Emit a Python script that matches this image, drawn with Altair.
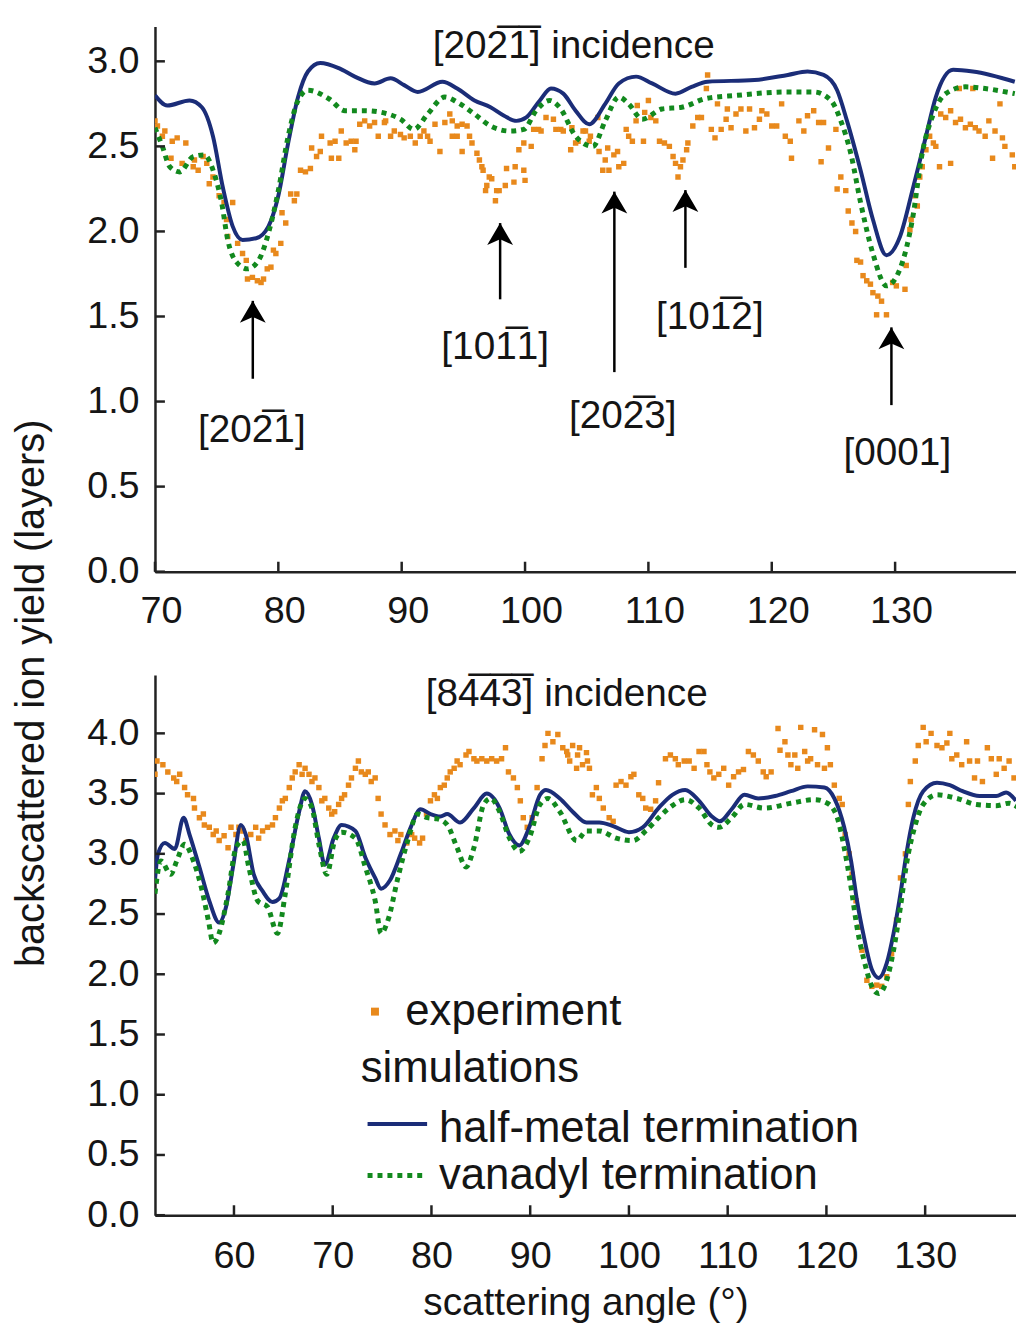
import altair as alt
import pandas as pd

FONT = "Liberation Sans"
ORANGE = "#e8891c"
BLUE = "#1b2d78"
GREEN = "#12891e"
INK = "#151515"

# ---------------- top panel: [20-2-1] incidence ----------------
top_exp_x = [70.0, 70.2, 70.6, 70.8, 71.3, 71.4, 71.8, 72.2, 72.5, 73.1, 73.2, 73.5, 73.9, 74.2, 74.4, 74.7,
             75.2, 75.6, 75.8, 75.9, 76.3, 76.7, 77.1, 77.4, 77.5, 77.9, 78.3, 78.6, 78.8, 79.1, 79.4, 79.6,
             79.8, 80.2, 80.3, 80.6, 81.0, 81.3, 81.5, 81.8, 82.2, 82.6, 82.7, 83.1, 83.4, 83.5, 84.2, 84.3,
             84.6, 84.9, 85.1, 85.5, 85.9, 86.2, 86.3, 86.6, 87.0, 87.4, 87.8, 88.1, 88.6, 88.7, 89.1, 89.4,
             89.9, 90.2, 90.7, 91.1, 91.5, 91.8, 92.1, 92.3, 92.7, 93.1, 93.5, 93.9, 94.1, 94.1, 94.5, 94.5,
             94.9, 94.9, 95.3, 95.5, 95.7, 96.1, 96.3, 96.5, 96.6, 96.8, 96.9, 97.1, 97.3, 97.6, 97.7, 97.9,
             98.4, 98.5, 99.1, 99.2, 99.5, 99.9, 99.9, 100.0, 100.5, 100.7, 101.1, 101.3, 101.7, 102.3, 102.5,
             102.9, 103.1, 103.7, 103.8, 104.1, 104.3, 104.7, 104.9, 105.2, 105.3, 105.9, 106.0, 106.3, 106.5,
             106.7, 106.8, 107.2, 107.5, 107.6, 108.0, 108.2, 108.4, 108.7, 109.0, 109.1, 109.6, 109.7, 110.0,
             110.2, 110.6, 110.9, 111.3, 111.7, 112.0, 112.2, 112.4, 112.6, 112.8, 113.1, 113.2, 113.6, 114.0,
             114.3, 114.7, 114.8, 115.1, 115.4, 115.6, 115.9, 116.3, 116.4, 116.7, 117.1, 117.5, 117.9, 118.2,
             118.6, 119.0, 119.2, 119.6, 120.0, 120.4, 120.8, 121.1, 121.5, 121.6, 122.2, 122.6, 122.9, 123.4,
             123.8, 124.0, 124.2, 124.6, 125.2, 125.3, 125.6, 126.0, 126.2, 126.5, 126.8, 126.9, 127.2, 127.4,
             127.7, 128.0, 128.2, 128.5, 128.6, 128.9, 129.3, 129.8, 130.1, 130.8, 130.9, 131.2, 131.3, 131.6,
             131.8, 132.0, 132.2, 132.5, 132.8, 133.1, 133.3, 133.6, 133.7, 134.1, 134.5, 134.5, 134.9, 135.2,
             135.3, 135.7, 136.1, 136.3, 136.5, 136.8, 137.3, 137.6, 137.9, 138.1, 138.5, 138.7, 138.9, 139.5,
             139.7]
top_exp_y = [2.65, 2.62, 2.56, 2.59, 2.43, 2.53, 2.55, 2.40, 2.52, 2.38, 2.42, 2.36, 2.44, 2.40, 2.28, 2.32,
             2.21, 2.17, 2.07, 1.97, 2.17, 1.93, 1.87, 1.83, 1.72, 1.73, 1.71, 1.70, 1.72, 1.78, 1.79, 1.89,
             1.87, 1.93, 2.11, 2.05, 2.22, 2.18, 2.22, 2.36, 2.35, 2.37, 2.49, 2.44, 2.47, 2.56, 2.52, 2.43,
             2.53, 2.43, 2.59, 2.52, 2.53, 2.48, 2.53, 2.63, 2.65, 2.62, 2.64, 2.56, 2.64, 2.65, 2.56, 2.59,
             2.57, 2.55, 2.56, 2.52, 2.56, 2.59, 2.56, 2.53, 2.63, 2.47, 2.64, 2.69, 2.65, 2.56, 2.62, 2.56,
             2.63, 2.47, 2.62, 2.56, 2.52, 2.46, 2.42, 2.38, 2.36, 2.24, 2.27, 2.32, 2.31, 2.18, 2.24, 2.24,
             2.27, 2.37, 2.29, 2.38, 2.48, 2.36, 2.52, 2.30, 2.50, 2.60, 2.60, 2.59, 2.67, 2.66, 2.60,
             2.60, 2.59, 2.48, 2.61, 2.52, 2.53, 2.59, 2.59, 2.53, 2.56, 2.67, 2.47, 2.36, 2.42,
             2.49, 2.36, 2.45, 2.47, 2.38, 2.40, 2.60, 2.56, 2.53, 2.65, 2.74, 2.53, 2.70, 2.77,
             2.67, 2.65, 2.53, 2.52, 2.50, 2.44, 2.40, 2.32, 2.38, 2.42, 2.48, 2.52, 2.62, 2.67,
             2.67, 2.84, 2.92, 2.60, 2.55, 2.75, 2.60, 2.66, 2.72, 2.61, 2.69, 2.72, 2.59, 2.72,
             2.61, 2.66, 2.71, 2.69, 2.62, 2.62, 2.75, 2.56, 2.53, 2.43, 2.65, 2.59, 2.68, 2.71,
             2.64, 2.41, 2.64, 2.49, 2.60, 2.25, 2.32, 2.24, 2.12, 2.05, 2.00, 1.83, 1.82, 1.74,
             1.71, 1.69, 1.64, 1.51, 1.62, 1.59, 1.51, 1.70, 1.68, 1.66, 1.80, 2.01, 2.07, 2.21,
             2.15, 2.32, 2.38, 2.48, 2.56, 2.52, 2.50, 2.38, 2.69, 2.67, 2.40, 2.71, 2.64, 2.84,
             2.66, 2.61, 2.63, 2.84, 2.61, 2.59, 2.56, 2.65, 2.43, 2.59, 2.75, 2.55, 2.50, 2.45,
             2.38]

top_half_x = [70.0, 71.0, 72.8, 73.8, 74.7, 75.5, 76.3, 77.1, 78.2, 79.2, 80.0, 80.8, 81.6, 82.4, 83.4,
              84.9, 86.2, 87.8, 89.1, 90.2, 91.3, 93.3, 94.5, 95.9, 97.2, 98.3, 99.3, 100.1, 101.2, 102.1,
              103.1, 104.1, 105.2, 106.5, 107.6, 109.0, 110.3, 112.2, 113.5, 114.8, 118.6, 121.3, 122.9,
              124.2, 125.3, 126.1, 127.2, 128.2, 129.3, 130.4, 131.4, 132.5, 133.3, 134.7, 136.3, 139.7]
top_half_y = [2.80, 2.74, 2.77, 2.73, 2.56, 2.26, 2.03, 1.95, 1.96, 2.03, 2.21, 2.52, 2.79, 2.94, 2.99,
              2.96, 2.91, 2.87, 2.90, 2.86, 2.82, 2.88, 2.84, 2.77, 2.73, 2.68, 2.65, 2.67, 2.77, 2.84,
              2.81, 2.71, 2.63, 2.75, 2.87, 2.91, 2.87, 2.81, 2.85, 2.88, 2.89, 2.92, 2.94,
              2.92, 2.83, 2.65, 2.36, 2.07, 1.86, 1.97, 2.24, 2.56, 2.79, 2.95, 2.94, 2.88]

top_van_x = [70.0, 70.6, 71.2, 72.0, 73.1, 74.0, 74.8, 75.4, 75.9, 76.6, 77.5, 78.4, 79.2, 80.0, 80.8,
             81.6, 82.4, 84.1, 85.4, 87.0, 88.9, 89.9, 91.0, 92.1, 93.5, 94.5, 95.9, 97.2, 98.8, 99.9,
             100.9, 102.0, 102.8, 104.1, 105.5, 106.5, 107.6, 108.4, 109.5, 111.1, 112.7, 114.6, 117.2,
             121.2, 123.4, 124.8, 125.6, 126.4, 127.2, 128.2, 129.3, 130.4, 131.4, 132.2, 133.1, 134.1,
             135.7, 137.3, 139.7]
top_van_y = [2.61, 2.50, 2.38, 2.35, 2.44, 2.45, 2.34, 2.17, 1.95, 1.82, 1.78, 1.83, 1.99, 2.24, 2.56,
             2.77, 2.83, 2.78, 2.71, 2.71, 2.69, 2.66, 2.60, 2.69, 2.79, 2.76, 2.69, 2.62, 2.59, 2.60,
             2.71, 2.77, 2.73, 2.56, 2.50, 2.65, 2.79, 2.75, 2.66, 2.72, 2.73, 2.78, 2.80,
             2.82, 2.82, 2.77, 2.65, 2.46, 2.17, 1.87, 1.68, 1.78, 2.07, 2.46, 2.69, 2.81,
             2.85, 2.84, 2.81]

top_ticks_x = [70, 80, 90, 100, 110, 120, 130]
top_ticks_y = [0.0, 0.5, 1.0, 1.5, 2.0, 2.5, 3.0]

top_title = ["[202\u03051\u0305] incidence"]
top_title_x = [103.95]
top_title_y = [3.02]

ann_labels = ["[202\u03051]", "[101\u03051]", "[202\u03053]", "[101\u03052]", "[0001]"]
ann_x = [77.93, 97.98, 107.24, 113.0, 129.70]
ann_tip = [1.592, 2.049, 2.234, 2.243, 1.436]
ann_tail = [1.134, 1.601, 1.173, 1.786, 0.979]
ann_label_x = [77.85, 97.58, 107.92, 114.98, 130.18]
ann_label_y = [0.765, 1.251, 0.842, 1.426, 0.629]

# ---------------- bottom panel: [8-4-4 3] incidence ----------------
bot_exp_x = [52.0, 52.2, 52.8, 53.3, 53.9, 54.2, 54.5, 55.0, 55.3, 55.9, 56.0, 56.5, 56.9, 57.0, 57.5,
             57.9, 58.2, 58.5, 59.0, 59.4, 59.7, 60.2, 60.5, 60.9, 61.2, 61.7, 62.2, 62.5, 62.9, 63.4,
             63.9, 64.2, 64.6, 64.9, 65.2, 65.6, 65.9, 66.2, 66.6, 66.9, 67.2, 67.6, 67.9, 68.2, 68.6,
             68.9, 69.2, 69.6, 69.9, 70.2, 70.6, 70.9, 71.2, 71.6, 71.9, 72.3, 72.6, 72.9, 73.3, 73.6,
             73.9, 74.3, 74.6, 74.9, 75.3, 75.8, 76.3, 76.6, 76.9, 77.5, 78.0, 78.3, 78.8, 79.1, 79.5,
             79.9, 80.3, 80.6, 80.9, 81.3, 81.6, 81.9, 82.3, 82.6, 82.9, 83.5, 83.8, 84.3, 84.6, 85.1,
             85.6, 86.1, 86.6, 87.1, 87.5, 87.8, 88.3, 88.7, 89.0, 89.3, 89.7, 90.2, 90.7, 91.2, 91.5,
             91.8, 92.3, 92.8, 93.3, 93.7, 93.8, 94.0, 94.3, 94.7, 94.8, 95.0, 95.3, 95.7, 95.8, 96.0,
             96.3, 96.7, 97.0, 97.4, 98.0, 98.4, 98.7, 99.2, 99.7, 100.2, 100.5, 101.0, 101.4, 101.7,
             102.2, 102.7, 103.0, 103.7, 104.2, 104.7, 105.0, 105.6, 106.1, 106.6, 107.1, 107.6, 107.9,
             108.2, 108.6, 109.1, 109.6, 110.1, 110.6, 111.1, 111.6, 112.1, 112.6, 113.1, 113.6, 113.9,
             114.4, 115.1, 115.3, 115.8, 116.1, 116.4, 116.8, 117.1, 117.4, 117.8, 118.1, 118.4, 118.8,
             119.1, 119.6, 119.8, 120.1, 120.4, 120.8, 121.3, 121.6, 121.9, 122.3, 122.6, 123.0, 123.3,
             123.6, 124.1, 124.6, 125.1, 125.6, 126.1, 126.6, 127.1, 127.5, 128.0, 128.3, 128.5, 129.0,
             129.3, 129.8, 130.1, 130.6, 131.2, 131.7, 132.2, 132.5, 132.7, 133.2, 133.7, 134.2, 134.5,
             135.0, 135.3, 135.8, 136.3, 136.7, 137.2, 137.5, 138.0, 138.5, 139.0]
bot_exp_y = [3.66, 3.77, 3.74, 3.68, 3.63, 3.60, 3.66, 3.55, 3.49, 3.46, 3.38, 3.30, 3.33, 3.24, 3.22,
             3.16, 3.19, 3.11, 3.15, 3.05, 3.22, 3.16, 3.22, 3.19, 3.11, 3.16, 3.22, 3.13, 3.19, 3.22,
             3.24, 3.30, 3.38, 3.44, 3.46, 3.55, 3.63, 3.68, 3.74, 3.66, 3.71, 3.66, 3.60, 3.63, 3.55,
             3.44, 3.46, 3.38, 3.33, 3.35, 3.41, 3.46, 3.49, 3.57, 3.63, 3.71, 3.77, 3.68, 3.66, 3.68,
             3.60, 3.63, 3.46, 3.33, 3.24, 3.16, 3.19, 3.11, 3.16, 3.09, 3.16, 3.13, 3.09, 3.13, 3.33,
             3.44, 3.49, 3.46, 3.55, 3.57, 3.63, 3.68, 3.71, 3.77, 3.74, 3.82, 3.85, 3.79, 3.77, 3.79,
             3.77, 3.79, 3.77, 3.79, 3.88, 3.68, 3.63, 3.55, 3.44, 3.30, 3.22, 3.30, 3.55, 3.79, 3.90,
             4.00, 3.93, 3.99, 3.88, 3.85, 3.82, 3.77, 3.90, 3.71, 3.82, 3.88, 3.74, 3.84, 3.77, 3.71,
             3.49, 3.55, 3.46, 3.38, 3.30, 3.27, 3.57, 3.60, 3.57, 3.64, 3.66, 3.49, 3.46, 3.38,
             3.37, 3.44, 3.59, 3.79, 3.82, 3.79, 3.74, 3.77, 3.77, 3.71, 3.85, 3.85, 3.74,
             3.68, 3.63, 3.66, 3.71, 3.57, 3.64, 3.68, 3.70, 3.85, 3.82, 3.77, 3.68, 3.64,
             3.68, 4.04, 3.86, 3.93, 3.82, 3.74, 3.82, 3.71, 4.05, 3.85, 3.77, 3.79, 4.03,
             3.74, 3.99, 3.71, 3.88, 3.74, 3.57, 3.46, 3.41, 3.16, 3.00, 2.83, 2.61, 2.39,
             2.20, 1.95, 1.90, 1.91, 1.90, 1.98, 2.17, 2.45, 2.80, 3.00, 3.41, 3.60, 3.77,
             3.90, 4.05, 3.93, 4.00, 3.90, 3.88, 3.92, 4.00, 3.79, 3.82, 3.74, 3.93, 3.77,
             3.63, 3.77, 3.60, 3.88, 3.79, 3.66, 3.79, 3.71, 3.77, 3.63]

bot_half_x = [52.0, 52.3, 53.0, 54.0, 54.9, 55.5, 56.5, 57.5, 58.5, 59.2, 59.9, 60.7, 61.2, 62.0, 62.9,
              63.9, 64.6, 65.6, 66.6, 67.2, 67.9, 68.6, 69.2, 70.1, 70.9, 72.3, 73.3, 74.3, 74.9, 75.8,
              76.9, 77.9, 78.9, 79.9, 80.9, 81.6, 82.9, 84.3, 85.6, 86.9, 87.9, 88.9, 89.9, 91.0, 91.6,
              93.0, 94.3, 95.7, 97.0, 98.4, 100.0, 101.4, 103.0, 104.4, 105.7, 107.1, 108.4, 109.2, 110.4,
              111.7, 113.1, 114.8, 116.4, 118.1, 119.8, 120.8, 121.8, 122.5, 123.1, 123.8, 124.6, 125.3,
              126.1, 126.8, 127.5, 128.1, 128.8, 129.8, 131.2, 132.5, 133.8, 135.5, 137.2, 138.2, 139.2]
bot_half_y = [2.78, 3.00, 3.09, 3.04, 3.30, 3.16, 2.89, 2.61, 2.43, 2.56, 2.89, 3.24, 3.16, 2.83, 2.69,
              2.60, 2.63, 2.95, 3.35, 3.52, 3.41, 3.13, 2.91, 3.13, 3.24, 3.19, 2.97, 2.80, 2.71, 2.78,
              3.00, 3.22, 3.37, 3.33, 3.31, 3.33, 3.26, 3.38, 3.50, 3.38, 3.16, 3.07, 3.22, 3.49, 3.53,
              3.46, 3.35, 3.26, 3.26, 3.23, 3.18, 3.22, 3.38, 3.49, 3.53, 3.44, 3.31, 3.27, 3.37,
              3.49, 3.46, 3.48, 3.52, 3.56, 3.55, 3.46, 3.22, 2.94, 2.61, 2.31, 2.04, 1.97,
              2.09, 2.34, 2.67, 3.00, 3.30, 3.52, 3.59, 3.57, 3.52, 3.48, 3.48, 3.51, 3.44]

bot_van_x = [52.0, 52.6, 53.6, 54.2, 55.0, 55.9, 56.7, 57.4, 57.9, 58.5, 59.4, 60.2, 60.9, 61.5, 62.4,
             63.4, 64.4, 65.2, 66.2, 67.2, 67.9, 68.6, 69.4, 70.2, 70.9, 72.3, 73.3, 74.3, 74.9, 75.6,
             76.6, 77.6, 78.6, 79.6, 80.6, 81.6, 82.6, 83.5, 84.3, 85.3, 86.0, 86.9, 87.9, 88.9, 89.9,
             91.0, 91.8, 93.0, 94.7, 95.7, 97.0, 98.7, 100.4, 101.7, 103.0, 104.4, 105.7, 107.1, 108.4,
             109.1, 110.4, 111.7, 113.7, 116.4, 118.8, 120.1, 121.1, 121.8, 122.5, 123.1, 123.8, 124.6,
             125.3, 126.1, 126.8, 127.5, 128.1, 129.0, 129.8, 131.2, 133.2, 135.2, 137.2, 138.5, 139.5]
bot_van_y = [2.67, 2.94, 2.83, 2.94, 3.08, 2.94, 2.72, 2.45, 2.26, 2.34, 2.67, 3.05, 3.11, 2.89, 2.61,
             2.56, 2.34, 2.67, 3.22, 3.46, 3.38, 3.08, 2.83, 3.11, 3.18, 3.13, 2.89, 2.61, 2.34, 2.45,
             2.80, 3.11, 3.33, 3.30, 3.29, 3.24, 3.05, 2.89, 3.05, 3.41, 3.46, 3.35, 3.13, 3.02, 3.13,
             3.41, 3.46, 3.35, 3.11, 3.19, 3.19, 3.13, 3.11, 3.19, 3.30, 3.40, 3.45, 3.38, 3.24,
             3.22, 3.30, 3.41, 3.38, 3.42, 3.45, 3.42, 3.30, 3.05, 2.72, 2.39, 2.12, 1.90,
             1.84, 1.95, 2.20, 2.56, 2.91, 3.24, 3.41, 3.49, 3.46, 3.41, 3.40, 3.42, 3.38]

bot_ticks_x = [60, 70, 80, 90, 100, 110, 120, 130]
bot_ticks_y = [0.0, 0.5, 1.0, 1.5, 2.0, 2.5, 3.0, 3.5, 4.0]

bot_title = ["[84\u03054\u03053\u0305] incidence"]
bot_title_x = [93.7]
bot_title_y = [4.23]

# manual legend (bottom panel)
leg_square_x = [74.28]
leg_square_y = [1.69]
leg_text = ["experiment", "simulations", "half-metal termination", "vanadyl termination"]
leg_text_x = [77.35, 72.83, 80.76, 80.76]
leg_text_y = [1.575, 1.107, 0.610, 0.214]
leg_line_x = [73.53, 79.56]
leg_half_y = [0.758]
leg_van_y = [0.330]

W = 867
H_TOP, H_BOT = 549, 544
ARROW_PATH = "M0,0L1,1.7L0,1.25L-1,1.7Z"


def make_enc(xdom, ydom, xt, yt, xaxis_extra, yaxis_extra):
    xs = alt.Scale(domain=xdom, nice=False, zero=False)
    ys = alt.Scale(domain=ydom, nice=False, zero=False)
    xa = alt.Axis(values=xt, format="d", labelFont=FONT, labelFontSize=38, labelColor=INK,
                  domainColor="#222222", domainWidth=2.5, ticks=False, grid=False,
                  labelFlush=False, **xaxis_extra)
    ya = alt.Axis(values=yt, format=".1f", labelFont=FONT, labelFontSize=38, labelColor=INK,
                  domainColor="#222222", domainWidth=2.5, ticks=False, grid=False,
                  labelPadding=16, labelFlush=False, **yaxis_extra)

    def X(f):
        return alt.X(f, scale=xs, axis=xa)

    def Y(f):
        return alt.Y(f, scale=ys, axis=ya)
    return X, Y


def base_layers(X, Y, exp_x, exp_y, half_x, half_y, van_x, van_y, xt, yt, H):
    exp = alt.Chart(pd.DataFrame({"x": exp_x, "y": exp_y})).mark_square(
        size=30, color=ORANGE, opacity=1, clip=True).encode(x=X("x:Q"), y=Y("y:Q"))
    half = alt.Chart(pd.DataFrame({"x": half_x, "y": half_y})).mark_line(
        color=BLUE, strokeWidth=4, interpolate="monotone", clip=True).encode(x=X("x:Q"), y=Y("y:Q"))
    van = alt.Chart(pd.DataFrame({"x": van_x, "y": van_y})).mark_line(
        color=GREEN, strokeWidth=5, strokeDash=[5, 5], interpolate="monotone", clip=True).encode(
        x=X("x:Q"), y=Y("y:Q"))
    tx = alt.Chart(pd.DataFrame({"x": xt})).mark_rule(color="#222222", strokeWidth=2.5).encode(
        x=X("x:Q"), y=alt.value(H), y2=alt.value(H - 10))
    ty = alt.Chart(pd.DataFrame({"y": yt})).mark_rule(color="#222222", strokeWidth=2.5).encode(
        y=Y("y:Q"), x=alt.value(0), x2=alt.value(10))
    return [exp, half, van, tx, ty]


# ---- top ----
X1, Y1 = make_enc([70, 139.8], [0, 3.205], top_ticks_x, top_ticks_y,
                  dict(labelPadding=21, labelOffset=6, title=None), dict(title=None))
layers1 = base_layers(X1, Y1, top_exp_x, top_exp_y, top_half_x, top_half_y, top_van_x, top_van_y,
                      top_ticks_x, top_ticks_y, H_TOP)

ttl1 = alt.Chart(pd.DataFrame({"x": top_title_x, "y": top_title_y, "t": top_title})).mark_text(
    font=FONT, fontSize=39, color=INK, align="center", baseline="alphabetic").encode(
    x=X1("x:Q"), y=Y1("y:Q"), text="t:N")

ann = pd.DataFrame({"x": ann_x, "y": ann_tail, "y2": ann_tip})
shaft = alt.Chart(ann).mark_rule(color="black", strokeWidth=2.5).encode(
    x=X1("x:Q"), y=Y1("y:Q"), y2="y2:Q")
head = alt.Chart(pd.DataFrame({"x": ann_x, "y": ann_tip})).mark_point(
    shape=ARROW_PATH, size=676, filled=True, color="black", opacity=1, strokeWidth=0).encode(
    x=X1("x:Q"), y=Y1("y:Q"))
lab = alt.Chart(pd.DataFrame({"x": ann_label_x, "y": ann_label_y, "t": ann_labels})).mark_text(
    font=FONT, fontSize=39, color=INK, align="center", baseline="alphabetic").encode(
    x=X1("x:Q"), y=Y1("y:Q"), text="t:N")

top = alt.layer(*layers1, ttl1, shaft, head, lab).properties(width=W, height=H_TOP)

# ---- bottom ----
X2, Y2 = make_enc([52, 139.2], [0, 4.485], bot_ticks_x, bot_ticks_y,
                  dict(labelPadding=23, title="scattering angle (\u00b0)", titleFont=FONT,
                       titleFontSize=39, titleFontWeight="normal", titleColor=INK, titlePadding=8),
                  dict(title="backscattered ion yield (layers)", titleFont=FONT,
                       titleFontSize=40, titleFontWeight="normal", titleColor=INK,
                       titleX=-112, titleY=18, titleAngle=270, titleAlign="center",
                       titleBaseline="alphabetic"))
layers2 = base_layers(X2, Y2, bot_exp_x, bot_exp_y, bot_half_x, bot_half_y, bot_van_x, bot_van_y,
                      bot_ticks_x, bot_ticks_y, H_BOT)

ttl2 = alt.Chart(pd.DataFrame({"x": bot_title_x, "y": bot_title_y, "t": bot_title})).mark_text(
    font=FONT, fontSize=39, color=INK, align="center", baseline="alphabetic").encode(
    x=X2("x:Q"), y=Y2("y:Q"), text="t:N")

leg_sq = alt.Chart(pd.DataFrame({"x": leg_square_x, "y": leg_square_y})).mark_square(
    size=64, color=ORANGE, opacity=1).encode(x=X2("x:Q"), y=Y2("y:Q"))
leg_tx = alt.Chart(pd.DataFrame({"x": leg_text_x, "y": leg_text_y, "t": leg_text})).mark_text(
    font=FONT, fontSize=44, color=INK, align="left", baseline="alphabetic").encode(
    x=X2("x:Q"), y=Y2("y:Q"), text="t:N")
leg_h = alt.Chart(pd.DataFrame({"x": [leg_line_x[0]], "x2": [leg_line_x[1]], "y": leg_half_y})).mark_rule(
    color=BLUE, strokeWidth=4).encode(x=X2("x:Q"), x2="x2:Q", y=Y2("y:Q"))
leg_v = alt.Chart(pd.DataFrame({"x": [leg_line_x[0]], "x2": [leg_line_x[1]], "y": leg_van_y})).mark_rule(
    color=GREEN, strokeWidth=5, strokeDash=[5, 5]).encode(x=X2("x:Q"), x2="x2:Q", y=Y2("y:Q"))

bottom = alt.layer(*layers2, ttl2, leg_sq, leg_tx, leg_h, leg_v).properties(width=W, height=H_BOT)

chart = alt.vconcat(top, bottom, spacing=104, bounds="flush").properties(
    padding={"left": 3, "top": 14, "right": 0, "bottom": 0}, background="white"
).configure_view(stroke=None)

chart.save("out.html", embed_options={"renderer": "svg", "actions": False})
